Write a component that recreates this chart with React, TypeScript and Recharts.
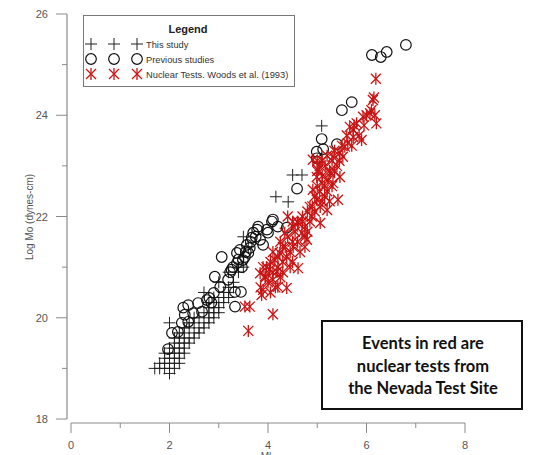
import React from 'react';
import { ScatterChart, Scatter, XAxis, YAxis } from 'recharts';

// ---- Data: [Ml, Log Mo] ----
const thisStudy: number[][] = [
  [1.7, 19.0], [1.8, 19.0], [1.9, 19.0], [2.0, 19.0], [2.1, 19.0], [2.0, 18.9],
  [1.8, 19.1], [1.9, 19.1], [2.0, 19.1], [2.1, 19.1], [2.2, 19.1],
  [1.9, 19.2], [2.0, 19.2], [2.1, 19.2], [2.2, 19.2],
  [1.9, 19.3], [2.0, 19.3], [2.1, 19.3], [2.2, 19.3], [2.3, 19.3],
  [2.0, 19.4], [2.1, 19.4], [2.2, 19.4], [2.3, 19.4],
  [2.1, 19.5], [2.2, 19.5], [2.3, 19.5], [2.4, 19.5],
  [2.1, 19.6], [2.2, 19.6], [2.3, 19.6], [2.4, 19.6], [2.5, 19.6],
  [2.2, 19.7], [2.3, 19.7], [2.5, 19.7], [2.6, 19.7],
  [2.3, 19.8], [2.4, 19.8], [2.6, 19.8], [2.7, 19.8],
  [2.0, 19.9], [2.4, 19.9], [2.5, 19.9], [2.7, 19.9], [2.8, 19.9],
  [2.5, 20.0], [2.6, 20.0], [2.8, 20.0], [2.9, 20.0],
  [2.7, 20.1], [2.8, 20.1], [2.9, 20.1], [3.0, 20.1],
  [2.8, 20.2], [2.9, 20.2], [3.0, 20.2],
  [2.8, 20.3], [3.0, 20.3], [3.1, 20.3],
  [2.9, 20.4], [3.1, 20.4], [3.2, 20.4],
  [2.7, 20.5], [3.1, 20.5], [3.2, 20.5],
  [3.2, 20.6], [3.3, 20.6], [3.0, 20.7], [3.3, 20.7],
  [3.2, 20.9], [3.4, 20.9], [3.4, 21.0], [3.5, 21.0],
  [3.5, 21.2], [3.6, 21.4], [3.5, 21.6],
  [4.16, 22.39], [4.41, 22.29], [4.5, 22.82], [4.69, 22.82], [5.09, 23.79],
];

const previousStudies: number[][] = [
  [1.97, 19.38], [2.05, 19.7], [2.17, 19.72], [2.25, 19.9], [2.38, 19.92],
  [2.31, 20.06], [2.38, 20.25], [2.48, 20.09], [2.58, 20.29], [2.66, 20.12],
  [2.76, 20.35], [2.81, 20.39], [2.9, 20.49], [3.03, 20.61], [2.92, 20.81],
  [3.06, 21.2], [3.19, 20.75], [3.23, 20.9], [3.29, 21.0], [3.37, 21.08],
  [3.33, 20.51], [3.45, 20.51], [3.33, 20.22], [3.37, 21.28], [3.43, 21.34],
  [3.49, 21.14], [3.57, 21.44], [3.6, 21.28], [3.63, 21.38], [3.67, 21.58],
  [3.7, 21.68], [3.78, 21.74], [3.8, 21.8], [3.84, 21.54], [3.9, 21.44],
  [3.98, 21.74], [4.0, 21.68], [4.08, 21.9], [4.1, 21.94], [4.2, 21.8],
  [4.38, 21.78], [3.47, 21.0], [3.53, 21.2], [3.26, 20.95], [3.4, 21.15],
  [3.55, 21.3], [3.65, 21.5], [3.75, 21.6], [2.28, 20.2], [2.85, 20.3],
  [4.59, 22.55], [4.99, 23.28], [4.99, 23.15], [5.09, 23.53], [5.12, 23.33],
  [5.4, 23.43], [5.5, 24.1], [5.7, 24.26], [6.11, 25.19], [6.29, 25.15],
  [6.41, 25.25], [6.8, 25.39],
];

const nuclearTests: number[][] = [
  [3.6, 19.74], [4.1, 20.07], [3.53, 20.22], [3.63, 20.22], [3.87, 20.45],
  [3.9, 20.55], [3.84, 20.88], [3.94, 20.82], [3.97, 21.0], [4.03, 20.95],
  [4.1, 20.75], [4.18, 20.91], [4.2, 20.61], [4.38, 20.59], [4.14, 21.14],
  [4.24, 21.28], [4.3, 21.4], [4.38, 21.2], [4.45, 21.0], [4.61, 20.98],
  [4.34, 21.68], [4.51, 21.8], [4.61, 21.87], [4.51, 21.4], [4.69, 21.68],
  [4.79, 21.54], [4.75, 21.8], [4.89, 22.0], [4.85, 22.19], [4.99, 22.33],
  [5.06, 22.19], [5.06, 21.87], [5.2, 22.13], [4.91, 22.53], [4.99, 22.78],
  [5.02, 22.92], [5.1, 22.66], [5.16, 23.0], [5.22, 22.72], [5.26, 22.86],
  [5.32, 22.66], [5.4, 23.0], [5.46, 22.78], [5.42, 22.33], [5.32, 23.18],
  [5.46, 23.26], [5.52, 23.18], [5.62, 23.45], [5.73, 23.57], [5.66, 23.77],
  [5.8, 23.84], [5.9, 23.51], [5.93, 23.97], [6.07, 24.04], [6.13, 24.3],
  [6.17, 24.0], [6.2, 23.84], [6.19, 24.72], [4.91, 23.12], [5.73, 23.71],
  [5.56, 23.38], [3.95, 20.8], [4.0, 20.7], [4.05, 21.1], [3.9, 21.0],
  [4.1, 21.3], [4.2, 21.0], [4.25, 20.8], [4.15, 20.6], [3.85, 20.6],
  [4.3, 21.1], [4.35, 21.4], [4.4, 21.6], [4.45, 21.3], [4.5, 21.5],
  [4.55, 21.7], [4.6, 21.5], [4.65, 21.3], [4.7, 21.9], [4.75, 21.6],
  [4.8, 21.7], [4.85, 21.9], [4.6, 21.9], [4.7, 22.0], [4.8, 22.1],
  [4.9, 22.2], [4.95, 22.4], [5.0, 22.6], [5.05, 22.5], [5.1, 22.8],
  [5.15, 22.6], [5.2, 22.5], [5.25, 22.9], [5.3, 23.1], [5.35, 22.9],
  [5.05, 23.0], [5.1, 23.1], [5.2, 23.2], [5.3, 22.6], [5.15, 22.4],
  [5.35, 23.3], [5.45, 23.1], [5.5, 23.4], [5.6, 23.6], [5.7, 23.4],
  [5.75, 23.8], [5.85, 23.6], [5.95, 23.8], [6.0, 24.0], [6.1, 24.1],
  [6.15, 24.35], [4.4, 22.0], [4.5, 21.9], [5.0, 22.9], [5.0, 23.1],
  [4.95, 22.1], [5.1, 22.3], [5.25, 22.3], [4.1, 20.9], [4.2, 21.2],
  [4.3, 20.9], [4.05, 20.5], [4.25, 21.5], [4.5, 21.1], [4.75, 21.4],
];

const xTicks = [0, 1, 2, 3, 4, 5, 6, 7, 8];
const yTicks = [18, 19, 20, 21, 22, 23, 24, 25, 26];

const legendTitle = 'Legend';
const seriesNames = ['This study', 'Previous studies', 'Nuclear Tests.  Woods et al. (1993)'];
const noteLines = ['Events in red are', 'nuclear tests from', 'the Nevada Test Site'];
const xLabel = 'Ml';
const yLabel = 'Log Mo (dynes-cm)';

// ---- Layout ----
const W = 538;
const H = 455;
const MARGIN = { top: 14, right: 73, left: 0, bottom: 0 };
const YAXIS_W = 71;
const XAXIS_H = 36;
const PLOT_BOTTOM = H - MARGIN.bottom - XAXIS_H;
const PLOT_LEFT = MARGIN.left + YAXIS_W;
const AXIS_COLOR = '#8a8a8a';
const TEXT_COLOR = '#555';
const RED = '#c81414';
const FONT = 'Arial, "Liberation Sans", sans-serif';

const toPts = (arr: number[][]) => arr.map(([x, y]) => ({ x, y }));

const PlusShape = (p: any) => {
  const { cx, cy } = p;
  if (cx == null || cy == null) return <g />;
  const s = 6;
  return (
    <g stroke="#222" strokeWidth={1} fill="none">
      <line x1={cx - s} y1={cy} x2={cx + s} y2={cy} />
      <line x1={cx} y1={cy - s} x2={cx} y2={cy + s} />
    </g>
  );
};

const CircleShape = (p: any) => {
  const { cx, cy } = p;
  if (cx == null || cy == null) return <g />;
  return <circle cx={cx} cy={cy} r={5.3} fill="none" stroke="#111" strokeWidth={1.2} />;
};

const StarShape = (p: any) => {
  const { cx, cy } = p;
  if (cx == null || cy == null) return <g />;
  const d = 5;
  return (
    <g stroke={RED} strokeWidth={1.3} fill="none">
      <line x1={cx - d} y1={cy - d} x2={cx + d} y2={cy + d} />
      <line x1={cx - d} y1={cy + d} x2={cx + d} y2={cy - d} />
      <line x1={cx} y1={cy - 6} x2={cx} y2={cy + 6} />
    </g>
  );
};

const XTick = (p: any) => {
  const { x, payload } = p;
  const v = payload.value;
  const major = v % 2 === 0;
  const y0 = PLOT_BOTTOM + 4;
  return (
    <g>
      <line x1={x} y1={y0} x2={x} y2={y0 + (major ? 10 : 5)} stroke={AXIS_COLOR} strokeWidth={1} />
      {major && (
        <text x={x} y={y0 + 26} textAnchor="middle" fontSize={11} fill={TEXT_COLOR} fontFamily={FONT}>
          {v}
        </text>
      )}
    </g>
  );
};

const YTick = (p: any) => {
  const { y, payload } = p;
  const v = payload.value;
  const major = v % 2 === 0;
  const x0 = PLOT_LEFT - 4;
  return (
    <g>
      <line x1={x0 - (major ? 11 : 5)} y1={y} x2={x0} y2={y} stroke={AXIS_COLOR} strokeWidth={1} />
      {major && (
        <text x={x0 - 19} y={y + 4} textAnchor="end" fontSize={11} fill={TEXT_COLOR} fontFamily={FONT}>
          {v}
        </text>
      )}
    </g>
  );
};

const LegendSym = ({ kind, x, y }: { kind: number; x: number; y: number }) => {
  if (kind === 0) return <PlusShape cx={x} cy={y} />;
  if (kind === 1) return <CircleShape cx={x} cy={y} />;
  return <StarShape cx={x} cy={y} />;
};

export default function App() {
  return (
    <div style={{ position: 'absolute', left: 0, top: 0, width: W, height: H, background: '#fff' }}>
      <ScatterChart width={W} height={H} margin={MARGIN}>
        <XAxis
          type="number"
          dataKey="x"
          domain={[0, 8]}
          ticks={xTicks}
          height={XAXIS_H}
          tickLine={false}
          tick={<XTick />}
          axisLine={{ stroke: AXIS_COLOR, strokeWidth: 1.2, transform: 'translate(0,4)' }}
          allowDataOverflow
        />
        <YAxis
          type="number"
          dataKey="y"
          domain={[18, 26]}
          ticks={yTicks}
          width={YAXIS_W}
          tickLine={false}
          tick={<YTick />}
          axisLine={{ stroke: AXIS_COLOR, strokeWidth: 1.2, transform: 'translate(-4,0)' }}
          allowDataOverflow
        />
        <Scatter name={seriesNames[0]} data={toPts(thisStudy)} shape={PlusShape} isAnimationActive={false} />
        <Scatter name={seriesNames[1]} data={toPts(previousStudies)} shape={CircleShape} isAnimationActive={false} />
        <Scatter name={seriesNames[2]} data={toPts(nuclearTests)} shape={StarShape} isAnimationActive={false} />
      </ScatterChart>
      <svg
        width={W}
        height={H}
        style={{ position: 'absolute', left: 0, top: 0, pointerEvents: 'none', overflow: 'hidden' }}
      >
        <text
          transform={`translate(33,217) rotate(-90)`}
          textAnchor="middle"
          fontSize={10}
          fill={TEXT_COLOR}
          fontFamily={FONT}
        >
          {yLabel}
        </text>
        <text x={266} y={460} textAnchor="middle" fontSize={10} fill={TEXT_COLOR} fontFamily={FONT}>
          {xLabel}
        </text>
        {/* legend */}
        <rect x={83.5} y={15.5} width={211} height={71} fill="#fff" stroke="#777" strokeWidth={1} />
        <text x={188} y={33} textAnchor="middle" fontSize={11} fontWeight="bold" fill="#222" fontFamily={FONT}>
          {legendTitle}
        </text>
        {seriesNames.map((name, i) => {
          const y = 44 + i * 15;
          return (
            <g key={name}>
              <LegendSym kind={i} x={91} y={y} />
              <LegendSym kind={i} x={114} y={y} />
              <LegendSym kind={i} x={137} y={y} />
              <text x={146} y={y + 3.5} fontSize={9.3} fill="#333" fontFamily={FONT}>
                {name}
              </text>
            </g>
          );
        })}
        {/* note box */}
        <rect x={322} y={321} width={200} height={88} fill="#fff" stroke="#111" strokeWidth={2} />
        {noteLines.map((t, i) => (
          <text
            key={t}
            x={423}
            y={349 + i * 22.5}
            textAnchor="middle"
            fontSize={16.5}
            fontWeight="bold"
            fill="#111"
            fontFamily="Lato, 'Open Sans', sans-serif"
          >
            {t}
          </text>
        ))}
      </svg>
    </div>
  );
}
